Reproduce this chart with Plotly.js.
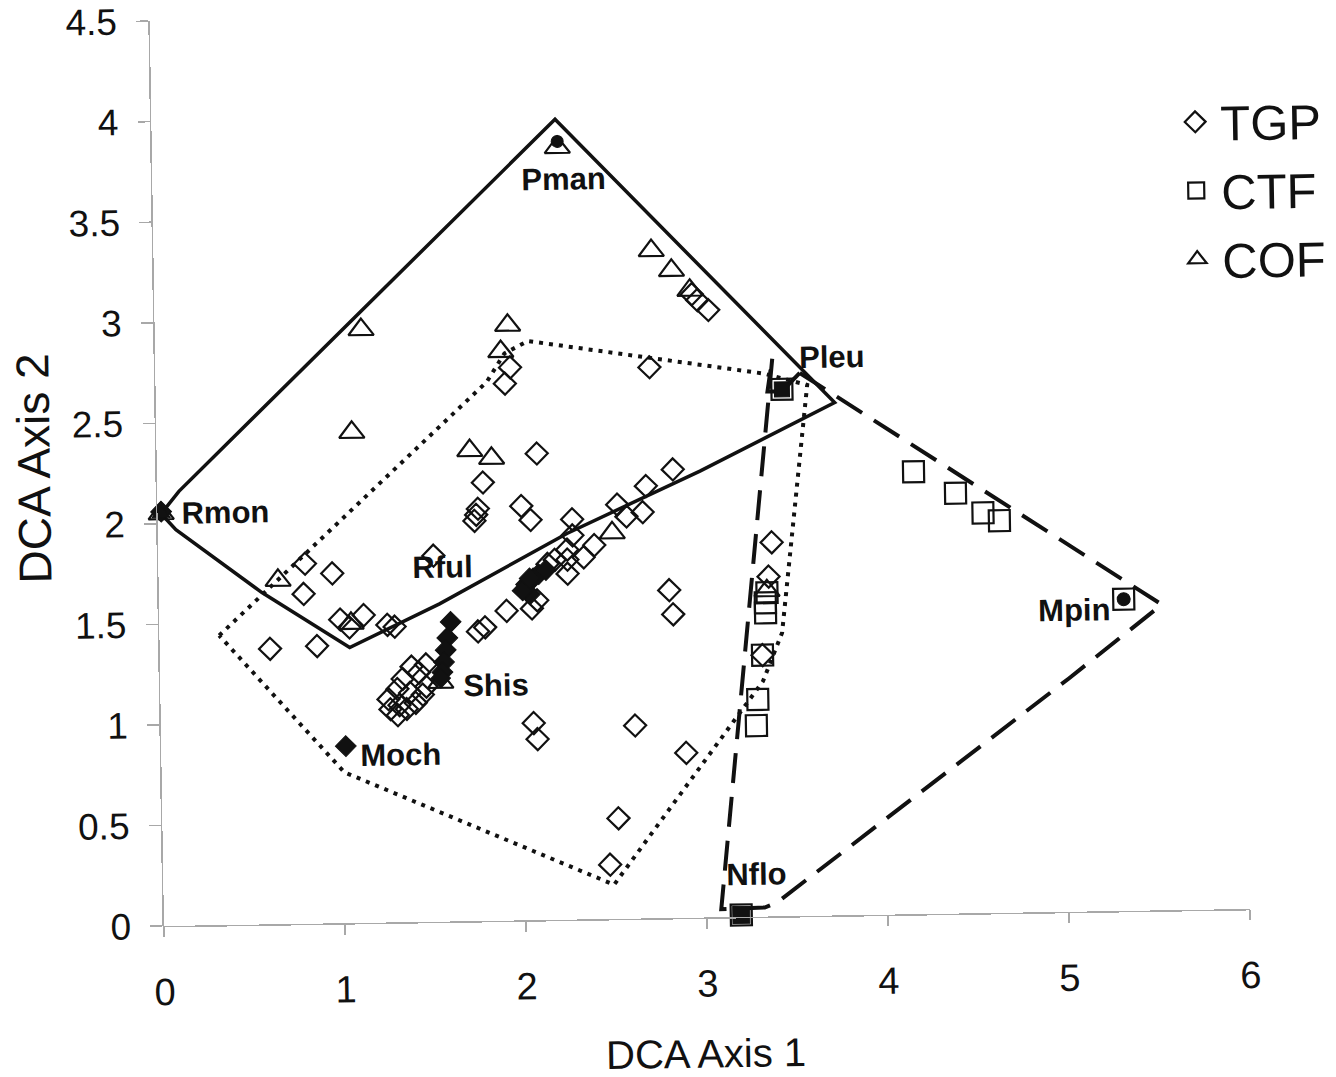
<!DOCTYPE html>
<html>
<head>
<meta charset="utf-8">
<script src="https://cdn.plot.ly/plotly-3.0.1.min.js"></script>
<style>
  html, body { margin: 0; padding: 0; background: #ffffff; }
  #chart {
    width: 1336px; height: 1077px;
    /* slight counter-clockwise tilt of the whole figure */
    transform: rotate(-0.9deg);
    transform-origin: 164px 926px;
  }
</style>
</head>
<body>
<div id="chart"></div>
<script>
// DCA sample scores by forest type
const tgpX = [2.97, 3.00, 3.06, 1.96, 1.93, 2.73, 1.80, 2.10, 1.77, 1.76, 1.75, 2.01, 2.06,
              2.85, 2.70, 2.54, 2.68, 2.59, 2.29, 2.29, 2.41, 2.35, 2.26, 2.26, 2.19, 2.26, 2.15,
              2.09, 2.06, 1.92, 1.80, 1.76, 1.52, 2.82, 2.84, 2.06, 2.08, 2.62, 2.90, 2.52, 2.47,
              3.39, 3.37, 3.33, 0.81, 0.96, 0.80, 1.00, 1.13, 1.05, 1.26, 1.30, 0.61, 0.87,
              1.39, 1.47, 1.43, 1.34, 1.31, 1.26, 1.27, 1.31, 1.36, 1.41, 1.45, 1.47, 1.32, 1.38];
const tgpY = [3.10, 3.07, 3.02, 2.75, 2.67, 2.74, 2.18, 2.32, 2.05, 2.02, 1.99, 2.06, 1.99,
              2.23, 2.15, 2.06, 2.02, 2.00, 1.99, 1.91, 1.86, 1.80, 1.79, 1.72, 1.79, 1.84, 1.77,
              1.59, 1.55, 1.54, 1.46, 1.44, 1.82, 1.63, 1.51, 0.98, 0.90, 0.96, 0.82, 0.50, 0.27,
              1.86, 1.69, 1.30, 1.79, 1.74, 1.64, 1.51, 1.53, 1.47, 1.48, 1.47, 1.37, 1.38,
              1.27, 1.28, 1.24, 1.21, 1.16, 1.11, 1.06, 1.03, 1.06, 1.09, 1.13, 1.17, 1.08, 1.14];

const ctfX = [4.18, 4.41, 4.56, 4.65, 5.33, 3.46, 3.36, 3.35, 3.35, 3.33, 3.30, 3.29, 3.19];
const ctfY = [2.20, 2.09, 1.99, 1.95, 1.55, 2.62, 1.61, 1.56, 1.51, 1.30, 1.08, 0.95, 0.01];

const cofX = [2.75, 2.86, 2.96, 1.95, 1.91, 1.14, 1.08, 1.73, 1.85, 2.51, 0.66, 1.06, 3.36, 1.55, 2.24, 0.02];
const cofY = [3.32, 3.22, 3.12, 2.96, 2.83, 2.95, 2.44, 2.34, 2.30, 1.92, 1.71, 1.49, 1.62, 1.19, 3.84, 2.05];

// labelled species scores
const siteNames = ['Rmon', 'Pman', 'Pleu', 'Mpin', 'Nflo', 'Moch', 'Shis', 'Rful'];
const siteX = [0.02, 2.24, 3.46, 5.33, 3.19, 1.02, 1.55, 2.05];
const siteY = [2.05, 3.87, 2.62, 1.55, 0.01, 0.88, 1.21, 1.70];
const siteSymbols = ['triangle-up', 'circle', 'square', 'circle', 'square', 'diamond', 'diamond', 'diamond'];
const siteSizes = [16, 12, 15, 13, 17, 16, 15, 16];

// further species scores (unlabelled)
const speciesX = [0.02, 1.61, 1.59, 1.58, 1.57, 1.56, 2.03, 2.07, 2.10, 2.05, 2.01, 2.14];
const speciesY = [2.06, 1.49, 1.41, 1.35, 1.29, 1.24, 1.67, 1.70, 1.72, 1.62, 1.64, 1.74];

// envelopes around each forest type
const cofHullX = [0.02, 0.12, 2.23, 3.75, 3.00, 2.26, 1.55, 1.05, 0.57, 0.10, 0.02];
const cofHullY = [2.05, 2.16, 3.98, 2.55, 2.22, 1.92, 1.58, 1.37, 1.65, 1.97, 2.05];

const tgpHullX = [0.33, 1.83, 1.93, 2.06, 3.36, 3.60, 3.44, 3.33, 2.49, 1.01, 0.33];
const tgpHullY = [1.44, 2.68, 2.82, 2.88, 2.70, 2.64, 1.41, 1.17, 0.17, 0.75, 1.44];

const ctfHullX = [3.56, 5.43, 5.54, 5.02, 3.39, 3.32, 3.08, 3.41, 3.38, 3.46, 3.56];
const ctfHullY = [2.70, 1.59, 1.52, 1.16, 0.07, 0.045, 0.04, 2.78, 2.61, 2.61, 2.70];

const FONT = 'Liberation Sans, Arial, sans-serif';
const INK = '#111111';

const traces = [
  { x: cofHullX, y: cofHullY, mode: 'lines', showlegend: false, hoverinfo: 'skip',
    line: { color: INK, width: 3.5 } },
  { x: tgpHullX, y: tgpHullY, mode: 'lines', showlegend: false, hoverinfo: 'skip',
    line: { color: INK, width: 4, dash: '4px,6px' } },
  { x: ctfHullX, y: ctfHullY, mode: 'lines', showlegend: false, hoverinfo: 'skip',
    line: { color: INK, width: 4, dash: '30px,14px' } },
  { x: tgpX, y: tgpY, mode: 'markers', name: 'TGP', legendgroup: 'a', cliponaxis: false,
    marker: { symbol: 'diamond-open', size: 17, color: INK, opacity: 1, line: { width: 2.2, color: INK } } },
  { x: ctfX, y: ctfY, mode: 'markers', name: 'CTF', legendgroup: 'b', cliponaxis: false,
    marker: { symbol: 'square-open', size: 21, color: INK, opacity: 1, line: { width: 2.2, color: INK } } },
  { x: cofX, y: cofY, mode: 'markers', name: 'COF', legendgroup: 'c', cliponaxis: false,
    marker: { symbol: 'triangle-up-open', size: 22, color: INK, opacity: 1, line: { width: 2.2, color: INK } } },
  { x: speciesX, y: speciesY, mode: 'markers', showlegend: false, cliponaxis: false,
    marker: { symbol: 'diamond', size: 16, color: INK, opacity: 1, line: { width: 1, color: INK } } },
  { x: siteX, y: siteY, mode: 'markers', showlegend: false, cliponaxis: false,
    marker: { symbol: siteSymbols, size: siteSizes, color: INK, opacity: 1, line: { width: 1, color: INK } } }
];

// label placement around each labelled point (pixel offsets)
const labelShift = {
  Rmon: { xanchor: 'left',   dx: 18,  dy: 0 },
  Pman: { xanchor: 'center', dx: 6,   dy: -38 },
  Pleu: { xanchor: 'left',   dx: 16,  dy: 32 },
  Mpin: { xanchor: 'right',  dx: -12, dy: -10 },
  Nflo: { xanchor: 'left',   dx: -16, dy: 40 },
  Moch: { xanchor: 'left',   dx: 12,  dy: -9 },
  Shis: { xanchor: 'left',   dx: 20,  dy: -8 },
  Rful: { xanchor: 'right',  dx: -55, dy: 13 }
};

const annotations = siteNames.map((name, i) => ({
  x: siteX[i], y: siteY[i], xref: 'x', yref: 'y',
  text: '<b>' + name + '</b>', showarrow: false,
  xanchor: labelShift[name].xanchor, yanchor: 'middle',
  xshift: labelShift[name].dx, yshift: labelShift[name].dy,
  font: { family: FONT, size: 31, color: INK }
}));

// axis titles
annotations.push({
  x: -0.113, y: 0.508, xref: 'paper', yref: 'paper',
  text: 'DCA Axis 2', textangle: -90, showarrow: false,
  xanchor: 'center', yanchor: 'middle',
  font: { family: FONT, size: 46, color: INK }
});
annotations.push({
  x: 0.497, y: -0.150, xref: 'paper', yref: 'paper',
  text: 'DCA Axis 1', showarrow: false,
  xanchor: 'center', yanchor: 'middle',
  font: { family: FONT, size: 40, color: INK }
});

const layout = {
  width: 1336, height: 1077,
  margin: { l: 164, r: 86, t: 21, b: 151, autoexpand: false },
  paper_bgcolor: '#ffffff', plot_bgcolor: '#ffffff',
  showlegend: true,
  legend: {
    x: 0.938, y: 0.913, xanchor: 'left', yanchor: 'top',
    bgcolor: 'rgba(0,0,0,0)', traceorder: 'grouped', tracegroupgap: 2,
    itemwidth: 40,
    font: { family: FONT, size: 49, color: INK }
  },
  xaxis: {
    range: [0, 6], tick0: 0, dtick: 1,
    showline: true, linecolor: '#a8a8a8', linewidth: 1.5,
    ticks: 'outside', ticklen: 10, tickcolor: '#a8a8a8', tickwidth: 1.5,
    showgrid: false, zeroline: false, ticklabelstandoff: 22,
    tickfont: { family: FONT, size: 38, color: INK }
  },
  yaxis: {
    range: [0, 4.5], tick0: 0, dtick: 0.5,
    showline: true, linecolor: '#a8a8a8', linewidth: 1.5,
    ticks: 'outside', ticklen: 12, tickcolor: '#a8a8a8', tickwidth: 1.5,
    showgrid: false, zeroline: false, ticklabelstandoff: 12,
    tickfont: { family: FONT, size: 37, color: INK }
  },
  annotations: annotations
};

Plotly.newPlot('chart', traces, layout, { displayModeBar: false, staticPlot: true });
</script>
</body>
</html>
